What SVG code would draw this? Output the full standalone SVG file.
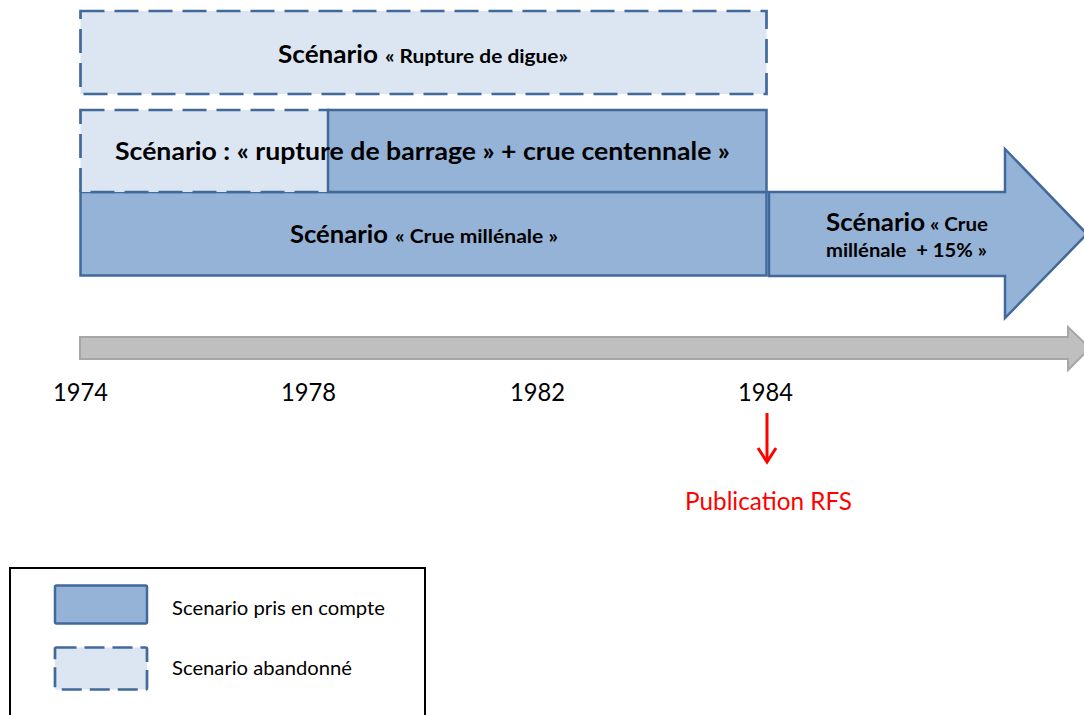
<svg xmlns="http://www.w3.org/2000/svg" width="1084" height="715" viewBox="0 0 1084 715">
<style>
.bg{fill:#ffffff}
.taken{fill:#95b3d7;stroke:#41699a;stroke-width:2.5}
.aband{fill:#dce6f2;stroke:#41699a;stroke-width:2.7;stroke-dasharray:24 10}
.big{font-family:Lato,"Open Sans",sans-serif;font-weight:bold;font-size:25px;fill:#000}
.sm{font-family:Lato,"Open Sans",sans-serif;font-weight:bold;font-size:18px;fill:#000}
.year{font-family:Lato,"Open Sans",sans-serif;font-size:25px;fill:#000}
.leg{font-family:Lato,"Open Sans",sans-serif;font-size:19px;fill:#000}
.red{font-family:Lato,"Open Sans",sans-serif;font-size:25px;fill:#ff0000}
</style>
<rect class="bg" x="0" y="0" width="1084" height="715"/>

<g id="connectors">
  <polygon points="80,337 1068,337 1068,327 1090,348 1068,370 1068,359 80,359" fill="#bfbfbf" stroke="#a6a6a6" stroke-width="2"/>
  <line x1="767" y1="413" x2="767" y2="461" stroke="#ff0000" stroke-width="3"/>
  <polyline points="758,448 767,462 776,448" fill="none" stroke="#ff0000" stroke-width="3"/>
</g>

<g id="scenario-digue">
  <rect class="aband" x="80.5" y="11" width="686" height="83"/>
  <text class="big" x="278" y="63" textLength="100" lengthAdjust="spacingAndGlyphs">Scénario</text>
  <text class="sm" x="385" y="63" textLength="183" lengthAdjust="spacingAndGlyphs">« Rupture de digue»</text>
</g>

<g id="scenario-millenale">
  <rect class="taken" x="80.5" y="192" width="686" height="83.5"/>
  <text class="big" x="290" y="243" textLength="98" lengthAdjust="spacingAndGlyphs">Scénario</text>
  <text class="sm" x="395" y="243" textLength="163" lengthAdjust="spacingAndGlyphs">« Crue millénale »</text>
</g>

<g id="scenario-barrage">
  <rect class="aband" x="80.5" y="110" width="248" height="82"/>
  <rect class="taken" x="328" y="110" width="438.5" height="82"/>
  <text class="big" x="115" y="160" textLength="615" lengthAdjust="spacingAndGlyphs">Scénario : « rupture de barrage » + crue centennale »</text>
</g>

<g id="scenario-millenale-15">
  <polygon class="taken" points="769,192 1005,192 1005,149 1087,234 1005,318 1005,276 769,276"/>
  <text class="big" x="826" y="231" textLength="99" lengthAdjust="spacingAndGlyphs">Scénario</text>
  <text class="sm" x="930" y="231" textLength="58" lengthAdjust="spacingAndGlyphs">« Crue</text>
  <text class="sm" x="826" y="257" textLength="161" lengthAdjust="spacingAndGlyphs" xml:space="preserve">millénale  + 15% »</text>
</g>

<g id="years">
  <text class="year" x="53" y="401" textLength="55" lengthAdjust="spacingAndGlyphs">1974</text>
  <text class="year" x="281" y="401" textLength="55" lengthAdjust="spacingAndGlyphs">1978</text>
  <text class="year" x="510" y="401" textLength="55" lengthAdjust="spacingAndGlyphs">1982</text>
  <text class="year" x="738" y="401" textLength="55" lengthAdjust="spacingAndGlyphs">1984</text>
</g>

<g id="publication">
  <text class="red" x="685" y="510" textLength="167" lengthAdjust="spacingAndGlyphs">Publication RFS</text>
</g>

<g id="legend">
  <rect x="10" y="568" width="415" height="160" fill="#ffffff" stroke="#000" stroke-width="2"/>
  <rect class="taken" x="55" y="585.5" width="92" height="38" rx="1.5"/>
  <text class="leg" x="172" y="615" textLength="213" lengthAdjust="spacingAndGlyphs">Scenario pris en compte</text>
  <rect class="aband" x="55" y="647.5" width="92" height="42" rx="1.5" style="stroke-dasharray:20 8"/>
  <text class="leg" x="172" y="675" textLength="180" lengthAdjust="spacingAndGlyphs">Scenario abandonné</text>
</g>
</svg>
